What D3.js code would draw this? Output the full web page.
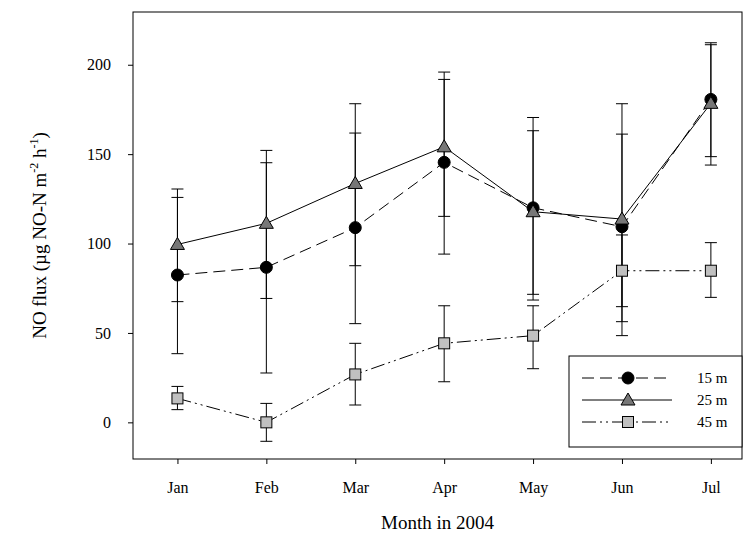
<!DOCTYPE html>
<html>
<head>
<meta charset="utf-8">
<script src="https://d3js.org/d3.v7.min.js"></script>
<style>body{margin:0;background:#fff}</style>
</head>
<body>
<script>
// Data
var months = ["Jan", "Feb", "Mar", "Apr", "May", "Jun", "Jul"];
var yTicks = [0, 50, 100, 150, 200];

var m15 = [82.4, 86.7, 108.9, 145.4, 120, 109.4, 180.6];
var m15Lo = [38.4, 27.6, 55.2, 94.1, 68.4, 56.3, 148.6];
var m15Hi = [125.8, 145.2, 161.8, 195.9, 170.5, 161.2, 212.3];

var m25 = [99.5, 111.3, 133.6, 154.1, 117.8, 113.7, 178.4];
var m25Lo = [67.5, 69.3, 87.6, 115.2, 71.6, 48.5, 143.9];
var m25Hi = [130.5, 152.1, 178.2, 191.8, 163.1, 178.2, 211.2];

var m45 = [13.4, 0, 26.8, 44.2, 48.5, 84.8, 84.8];
var m45Lo = [7.1, -10.6, 9.7, 22.7, 30, 64.7, 69.9];
var m45Hi = [20.1, 10.6, 44.2, 65.2, 65.2, 104.8, 100.5];

var series = [
  {name: "15 m", mean: m15, lo: m15Lo, hi: m15Hi, dash: "12,6", shape: "circle", fill: "#000"},
  {name: "25 m", mean: m25, lo: m25Lo, hi: m25Hi, dash: null, shape: "triangle", fill: "#777"},
  {name: "45 m", mean: m45, lo: m45Lo, hi: m45Hi, dash: "14,4,2,4,2,4", shape: "square", fill: "#c0c0c0"}
];

var W = 744, H = 538;
var pLeft = 133, pRight = 742, pTop = 12, pBottom = 459;
var serif = "'Liberation Serif', 'Times New Roman', serif";

var svg = d3.select("body").append("svg")
  .attr("width", W).attr("height", H)
  .style("font-family", serif);

var x = d3.scaleLinear().domain([-0.5, 6.35]).range([pLeft, pRight]);
var y = d3.scaleLinear().domain([-20.5, 229.5]).range([pBottom, pTop]);

// frame
svg.append("rect").attr("x", pLeft).attr("y", pTop)
  .attr("width", pRight - pLeft).attr("height", pBottom - pTop)
  .attr("fill", "none").attr("stroke", "#000").attr("stroke-width", 1);

// axes
var xAxis = svg.append("g").attr("transform", "translate(0," + pBottom + ")")
  .call(d3.axisBottom(x).tickValues(d3.range(months.length))
    .tickFormat(function(i) { return months[i]; }).tickSize(5).tickPadding(18));
var yAxis = svg.append("g").attr("transform", "translate(" + pLeft + ",0)")
  .call(d3.axisLeft(y).tickValues(yTicks).tickSize(5).tickPadding(17));
[xAxis, yAxis].forEach(function(a) {
  a.attr("font-size", 16).attr("font-family", serif);
  a.select(".domain").remove();
  a.selectAll("text").attr("fill", "#000");
});

// titles
svg.append("text").attr("x", (pLeft + pRight) / 2).attr("y", 529)
  .attr("text-anchor", "middle").style("font-size", "19px").text("Month in 2004");

var yt = svg.append("text").attr("transform", "translate(46," + ((pTop + pBottom) / 2) + ") rotate(-90)")
  .attr("text-anchor", "middle").style("font-size", "19px");
yt.append("tspan").text("NO flux (µg NO-N m");
yt.append("tspan").attr("dy", -8).style("font-size", "12px").text("-2");
yt.append("tspan").attr("dy", 8).text(" h");
yt.append("tspan").attr("dy", -8).style("font-size", "12px").text("-1");
yt.append("tspan").attr("dy", 8).text(")");

function marker(g, shape, fill, cx, cy) {
  if (shape === "circle") {
    g.append("circle").attr("cx", cx).attr("cy", cy).attr("r", 6)
      .attr("fill", fill).attr("stroke", "#000");
  } else if (shape === "triangle") {
    g.append("path").attr("d", "M" + cx + "," + (cy - 7) + "L" + (cx + 7) + "," + (cy + 5) + "L" + (cx - 7) + "," + (cy + 5) + "Z")
      .attr("fill", fill).attr("stroke", "#000");
  } else {
    g.append("rect").attr("x", cx - 5.5).attr("y", cy - 5.5).attr("width", 11).attr("height", 11)
      .attr("fill", fill).attr("stroke", "#000");
  }
}

// error bars
series.forEach(function(s) {
  var g = svg.append("g").attr("stroke", "#000").attr("stroke-width", 1);
  months.forEach(function(m, i) {
    g.append("line").attr("x1", x(i)).attr("x2", x(i)).attr("y1", y(s.lo[i])).attr("y2", y(s.hi[i]));
    [s.lo[i], s.hi[i]].forEach(function(v) {
      g.append("line").attr("x1", x(i) - 6).attr("x2", x(i) + 6).attr("y1", y(v)).attr("y2", y(v));
    });
  });
});

// lines and markers
var line = d3.line().x(function(d, i) { return x(i); }).y(function(d) { return y(d); });
series.forEach(function(s) {
  svg.append("path").datum(s.mean).attr("d", line).attr("fill", "none")
    .attr("stroke", "#000").attr("stroke-width", 1)
    .attr("stroke-dasharray", s.dash);
});
series.forEach(function(s) {
  var g = svg.append("g");
  s.mean.forEach(function(v, i) { marker(g, s.shape, s.fill, x(i), y(v)); });
});

// legend
var lg = svg.append("g");
lg.append("rect").attr("x", 569).attr("y", 356).attr("width", 173).attr("height", 91)
  .attr("fill", "#fff").attr("stroke", "#000");
series.forEach(function(s, i) {
  var ly = 378 + i * 22;
  lg.append("line").attr("x1", 582).attr("x2", 672).attr("y1", ly).attr("y2", ly)
    .attr("stroke", "#000").attr("stroke-dasharray", s.dash);
  marker(lg, s.shape, s.fill, 628, ly);
  lg.append("text").attr("x", 697).attr("y", ly + 5).style("font-size", "15px").text(s.name);
});
</script>
</body>
</html>
